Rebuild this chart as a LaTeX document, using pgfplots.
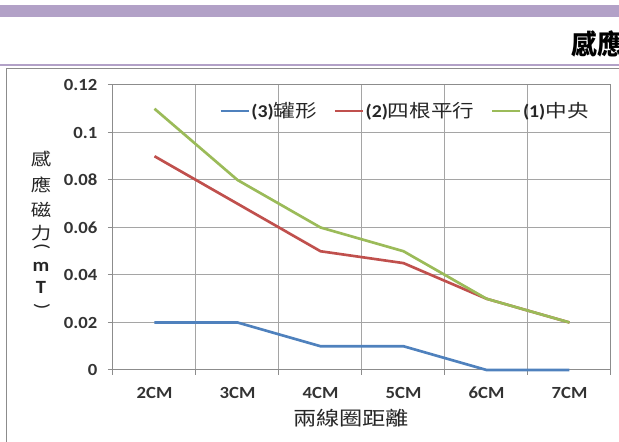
\documentclass[border=0pt]{standalone}
\usepackage{pgfplots}
\pgfplotsset{compat=1.18}
\usepackage{fontspec}
\setmainfont{Carlito}[FakeStretch=1.1]
\newfontfamily\cjk{Noto Sans CJK TC}[FakeStretch=1.2]
\newfontfamily\cjkt{Noto Sans CJK TC}[FakeStretch=0.95]

\definecolor{exblue}{RGB}{79,129,189}
\definecolor{exred}{RGB}{192,80,77}
\definecolor{exgreen}{RGB}{155,187,89}
\definecolor{band}{RGB}{178,161,199}
\definecolor{gridc}{RGB}{165,165,165}
\definecolor{axisc}{RGB}{140,140,140}

\begin{document}
\begin{tikzpicture}[x=0.75pt,y=0.75pt]
\path[use as bounding box] (0,0) rectangle (619,442);
\clip (0,0) rectangle (619,442);

% page header: band, title and rule
\fill[band] (0,437) rectangle (619,425);
\node[anchor=west, inner sep=0pt] at (571,398.5) {\fontsize{20.5}{22}\cjkt\bfseries 感應};
\draw[band, line width=1.1pt] (0,377) -- (619,377);
% chart frame
\draw[axisc, line width=0.75pt] (6,-10) -- (6,373) -- (640,373);

\begin{axis}[
  at={(84.75pt,54pt)}, anchor=south west,
  scale only axis, width=373.5pt, height=213.75pt,
  xmin=-0.5, xmax=5.5, ymin=0, ymax=0.12,
  xtick={0,1,2,3,4,5},
  xticklabels={2CM,3CM,4CM,5CM,6CM,7CM},
  minor xtick={-0.5,0.5,1.5,2.5,3.5,4.5,5.5},
  ytick={0,0.02,0.04,0.06,0.08,0.1,0.12},
  yticklabels={0,0.02,0.04,0.06,0.08,0.1,0.12},
  xminorgrids, ymajorgrids,
  grid style={gridc, line width=0.75pt},
  minor grid style={gridc, line width=0.75pt},
  axis line style={axisc, line width=0.75pt},
  tick pos=left, tick align=outside,
  major tick length=3.75pt, minor tick length=3.75pt,
  major x tick style={draw=none},
  minor x tick style={axisc, line width=0.75pt},
  major y tick style={axisc, line width=0.75pt},
  ticklabel style={font=\fontsize{12.75}{14}\selectfont\bfseries, text=black!80},
  xticklabel style={anchor=base, yshift=-17.5pt},
  yticklabel style={anchor=east, xshift=-4.5pt},
  clip=false,
  legend columns=3,
  legend style={at={(0.205,0.909)}, anchor=west, draw=none, fill=none,
    font=\fontsize{13.5}{15}\selectfont, text=black!85,
    nodes={inner xsep=1pt},
    /tikz/every even column/.append style={column sep=11.5pt}},
  legend image code/.code={\draw[#1] (0pt,0pt) -- (21pt,0pt);},
]
\addplot[exblue, line width=2pt] coordinates {(0,0.02) (1,0.02) (2,0.01) (3,0.01) (4,0) (5,0)};
\addlegendentry{{\bfseries(3)}{\cjk 罐形}}
\addplot[exred, line width=2pt] coordinates {(0,0.09) (1,0.07) (2,0.05) (3,0.045) (4,0.03) (5,0.02)};
\addlegendentry{{\bfseries(2)}{\cjk 四根平行}}
\addplot[exgreen, line width=2pt] coordinates {(0,0.11) (1,0.08) (2,0.06) (3,0.05) (4,0.03) (5,0.02)};
\addlegendentry{{\bfseries(1)}{\cjk 中央}}
\end{axis}

% stacked axis titles
\begin{scope}[every node/.style={inner sep=0pt, text=black!85}]
\node at (41,283) {\fontsize{12.75}{14}\cjk 感};
\node at (41,257) {\fontsize{12.75}{14}\cjk 應};
\node at (41,232) {\fontsize{12.75}{14}\cjk 磁};
\node at (41,209) {\fontsize{12.75}{14}\cjk 力};
\node[rotate=-90] at (42,195) {\fontsize{14}{15}\selectfont (};
\node at (41,175) {\fontsize{14}{15}\bfseries m};
\node at (41,155) {\fontsize{14}{15}\bfseries T};
\node[rotate=-90] at (42,135) {\fontsize{14}{15}\selectfont )};
\node at (351,24) {\fontsize{14.5}{16}\cjk 兩線圈距離};
\end{scope}
\end{tikzpicture}
\end{document}
